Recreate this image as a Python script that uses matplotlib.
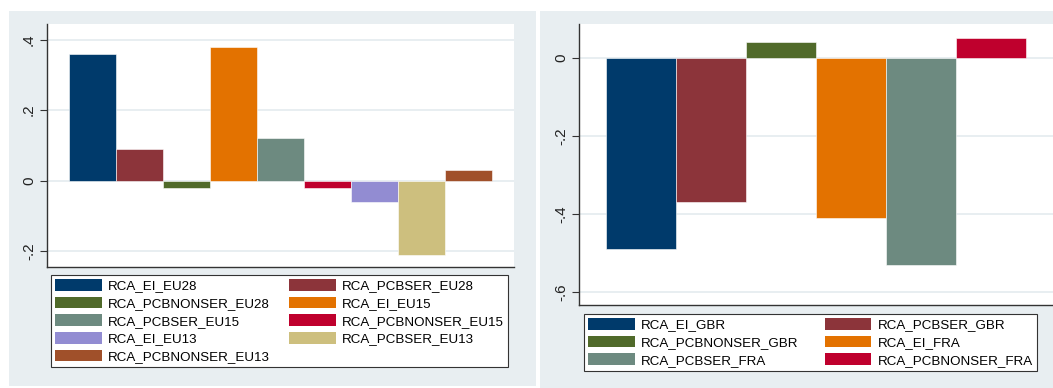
import numpy as np
import matplotlib
matplotlib.use('Agg')
import matplotlib.pyplot as plt
from matplotlib.patches import Rectangle, Patch

plt.rcParams['font.family'] = ['Liberation Sans', 'DejaVu Sans']

# RCA indices, EU aggregates
eu_labels = ['RCA_EI_EU28', 'RCA_PCBSER_EU28', 'RCA_PCBNONSER_EU28',
             'RCA_EI_EU15', 'RCA_PCBSER_EU15', 'RCA_PCBNONSER_EU15',
             'RCA_EI_EU13', 'RCA_PCBSER_EU13', 'RCA_PCBNONSER_EU13']
eu_values = [0.36, 0.09, -0.02, 0.38, 0.12, -0.02, -0.06, -0.21, 0.03]

# RCA indices, GBR and FRA
cty_labels = ['RCA_EI_GBR', 'RCA_PCBSER_GBR', 'RCA_PCBNONSER_GBR',
              'RCA_EI_FRA', 'RCA_PCBSER_FRA', 'RCA_PCBNONSER_FRA']
cty_values = [-0.49, -0.37, 0.04, -0.41, -0.53, 0.05]

# stata s2color-like palette
palette = ['#003a6b', '#8c343a', '#506a2a', '#e37200', '#6d8a80',
           '#bf002d', '#928cd2', '#cdbf7e', '#a0502a']

W, H = 1053, 388
bg = '#e8eef1'
grid_col = '#e4ebef'

fig = plt.figure(figsize=(W / 100, H / 100), dpi=100)
fig.patch.set_facecolor('white')

# graph regions
fig.patches.append(Rectangle((9 / W, 1 - 386 / H), (536 - 9) / W, (386 - 11) / H,
                             transform=fig.transFigure, facecolor=bg, edgecolor='none', zorder=-10))
fig.patches.append(Rectangle((540 / W, 1 - 388 / H), (W - 540) / W, (388 - 11) / H,
                             transform=fig.transFigure, facecolor=bg, edgecolor='none', zorder=-10))


def stata_fmt(v):
    s = '{:g}'.format(round(v, 2))
    return s.replace('0.', '.') if s != '0' else s


def draw_panel(rect, values, ticks, ylim, xpad):
    ax = fig.add_axes(rect)
    ax.set_facecolor('white')
    x = np.arange(len(values))
    ax.bar(x, values, width=1.0, color=palette[:len(values)],
           edgecolor='white', linewidth=0.4, zorder=3)
    ax.set_xlim(-0.5 - xpad, len(values) - 0.5 + xpad)
    ax.set_ylim(*ylim)
    ax.set_yticks(ticks)
    ax.set_yticklabels([stata_fmt(t) for t in ticks], rotation=90, va='center',
                       fontsize=11, color='#222222')
    ax.yaxis.grid(True, color=grid_col, linewidth=1.2, zorder=0)
    ax.set_xticks([])
    for side in ['top', 'right']:
        ax.spines[side].set_visible(False)
    for side in ['left', 'bottom']:
        ax.spines[side].set_color('#333333')
        ax.spines[side].set_linewidth(1.0)
    ax.tick_params(axis='y', length=5, width=0.8, color='#333333', pad=3)
    return ax


ax1 = draw_panel([47 / W, 1 - 267 / H, 467 / W, 243 / H], eu_values,
                 [-0.2, 0, 0.2, 0.4], (-0.245, 0.444), 0.46)
ax2 = draw_panel([579 / W, 1 - 305 / H, 474 / W, 281 / H], cty_values,
                 [-0.6, -0.4, -0.2, 0], (-0.633, 0.087), 0.386)


def add_legend(labels, corner, colspace):
    handles = [Patch(facecolor=palette[i], edgecolor='none') for i in range(len(labels))]
    # stata fills rows first, matplotlib fills columns first
    order = list(range(0, len(labels), 2)) + list(range(1, len(labels), 2))
    x0, y0 = corner
    leg = fig.legend([handles[i] for i in order], [labels[i] for i in order],
                     loc='upper left', ncol=2,
                     bbox_to_anchor=(x0 / W, 1 - y0 / H),
                     fontsize=9.6, handlelength=3.5, handleheight=0.95, handletextpad=0.45,
                     labelspacing=0.33, columnspacing=colspace, borderpad=0.3, borderaxespad=0.0,
                     fancybox=False, frameon=True, framealpha=1.0)
    leg.get_frame().set_edgecolor('#333333')
    leg.get_frame().set_linewidth(0.8)
    leg.get_frame().set_facecolor('white')
    return leg


add_legend(eu_labels, (51, 275), 1.45)
add_legend(cty_labels, (584, 314), 2.0)

fig.savefig('out.png', dpi=100)
